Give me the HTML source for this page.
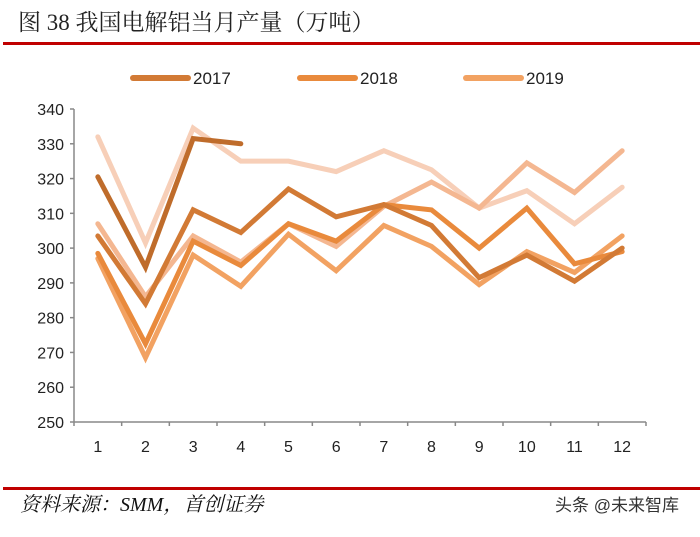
<!DOCTYPE html>
<html><head><meta charset="utf-8"><style>
body{margin:0;width:700px;height:532px;background:#fff;overflow:hidden;font-family:"Liberation Sans","Noto Sans CJK SC",sans-serif}
</style></head><body>
<svg width="700" height="532" xmlns="http://www.w3.org/2000/svg">
<text x="18" y="30" font-family="'Liberation Serif','Noto Serif CJK SC',serif" font-size="23" fill="#222">图  38 我国电解铝当月产量（万吨）</text>
<rect x="3" y="42" width="697" height="3" fill="#c00000"/>
<g id="legend"></g>
<g id="axes"></g>
<g id="series"></g>
<rect x="3" y="487" width="697" height="3" fill="#c00000"/>
<text x="20" y="511" font-family="'Liberation Serif','Noto Serif CJK SC',serif" font-style="italic" font-size="20" fill="#111">资料来源：SMM，首创证券</text>
<text x="555" y="511" font-size="17" fill="#333">头条 @未来智库</text>
</svg>
<script>
const months=["1","2","3","4","5","6","7","8","9","10","11","12"];
const yTicks=[250,260,270,280,290,300,310,320,330,340];
const s2017a=[320.5,294.5,331.5,330];
const s2017=[303.5,284,311,304.5,317,309,312.5,306.5,291.5,298,290.5,300];
const s2018=[298.5,272.5,302,295,307,302,312.5,311,300,311.5,295.5,299];
const s2019=[297,268.5,298,289,304,293.5,306.5,300.5,289.5,299,293,303.5];
const sE=[307,286,303.5,296,307,300.5,312,319,311.5,324.5,316,328];
const sF=[332,301.5,334.5,325,325,322,328,322.5,311.5,316.5,307,317.5];
const NS="http://www.w3.org/2000/svg";
const x0=74,x1=646,yb=422,yt=109,ymin=250,ymax=340;
const bw=(x1-x0)/months.length;
function xs(i){return x0+bw*(i+0.5);}
function ys(v){return yb-(v-ymin)/(ymax-ymin)*(yb-yt);}
function mk(tag,a,parent){const e=document.createElementNS(NS,tag);for(const k in a)e.setAttribute(k,a[k]);parent.appendChild(e);return e;}
const ax=document.getElementById('axes');
let l=mk('line',{x1:x0,y1:yt,x2:x0,y2:yb,stroke:'#888','stroke-width':1.5},ax);


l=mk('line',{x1:x0,y1:yb,x2:x1,y2:yb,stroke:'#888','stroke-width':1.5},ax);


yTicks.forEach(v=>{
 mk('line',{x1:x0-4,y1:ys(v),x2:x0,y2:ys(v),stroke:'#888','stroke-width':1.5},ax);
 const t=mk('text',{x:x0-10,y:ys(v)+6,'text-anchor':'end','font-size':16,fill:'#222'},ax);
 t.textContent=v;
 
 
});
for(let i=0;i<=months.length;i++){mk('line',{x1:x0+bw*i,y1:yb,x2:x0+bw*i,y2:yb+4,stroke:'#888','stroke-width':1.5},ax);}
months.forEach((m,i)=>{
 const t=mk('text',{x:xs(i),y:yb+30,'text-anchor':'middle','font-size':16,fill:'#222'},ax);
 t.textContent=m;
 
 
});
const sg=document.getElementById('series');
const list=[[sF,'#f7cfb8','series-f'],[sE,'#f4b791','series-e'],[s2019,'#f2a262','series-2019'],[s2018,'#e98a3c','series-2018'],[s2017,'#d27a35','series-2017'],[s2017a,'#bf6c2b','series-2017-high']];
list.forEach(([d,c,n])=>{
 const p=mk('polyline',{points:d.map((v,i)=>xs(i)+','+ys(v)).join(' '),fill:'none',stroke:c,'stroke-width':5,'stroke-linejoin':'miter','stroke-linecap':'round'},sg);
 
 
});
const lg=document.getElementById('legend');
[['2017','#d27a35',133],['2018','#e98a3c',300],['2019','#f2a262',466]].forEach(([t,c,x])=>{
 const ln=mk('line',{x1:x,y1:78,x2:x+55,y2:78,stroke:c,'stroke-width':6,'stroke-linecap':'round'},lg);
 
 
 const tx=mk('text',{x:x+60,y:84,'font-size':17,fill:'#222'},lg);
 tx.textContent=t;
 
 
});
</script>
</body></html>
